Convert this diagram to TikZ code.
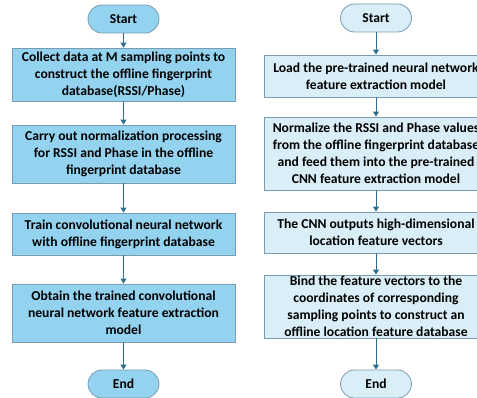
\documentclass[tikz,border=0pt]{standalone}
\usepackage{fontspec}
\setmainfont{Carlito}
\usetikzlibrary{shapes.misc,arrows.meta}
\definecolor{bleu}{HTML}{93D3F0}
\definecolor{bleuclair}{HTML}{DAEEF8}
\definecolor{bord}{HTML}{7A9CB0}
\definecolor{fleche}{HTML}{2F6E8C}

\begin{document}
\begin{tikzpicture}[x=1pt,y=-1pt,
  boite/.style={draw=bord,line width=0.8pt,minimum width=#1,
    align=center,inner sep=0pt,font=\bfseries\fontsize{13.6}{17}\selectfont},
  terminal/.style={rounded rectangle,draw=bord,line width=0.8pt,minimum width=71pt,
    minimum height=28pt,inner sep=0pt,font=\bfseries\fontsize{13.6}{17}\selectfont},
  lien/.style={draw=fleche,line width=0.9pt,-{Triangle[width=6pt,length=5pt]}}]
  \useasboundingbox (0,0) rectangle (477,398);

  % colonne gauche
\node[terminal,fill=bleu] (ls) at (123.5,19) {Start};
\node[boite=223pt,fill=bleu,minimum height=53pt] (l1) at (123.5,74.5)
  {Collect data at M sampling points to\\construct the offline fingerprint\\database(RSSI/Phase)};
\node[boite=223pt,fill=bleu,minimum height=58pt] (l2) at (123.5,154)
  {Carry out normalization processing\\for RSSI and Phase in the offline\\fingerprint database};
\node[boite=223pt,fill=bleu,minimum height=42pt] (l3) at (123.5,234)
  {Train convolutional neural network\\with offline fingerprint database};
\node[boite=223pt,fill=bleu,minimum height=58pt] (l4) at (123.5,313)
  {Obtain the trained convolutional\\neural network feature extraction\\model};
\node[terminal,fill=bleu] (le) at (123.5,384) {End};

  % colonne droite
\node[terminal,fill=bleuclair] (rs) at (376,18) {Start};
\node[boite=224pt,fill=bleuclair,minimum height=42pt] (r1) at (376,76)
  {Load the pre-trained neural network\\feature extraction model};
\node[boite=224pt,fill=bleuclair,minimum height=73pt] (r2) at (376,153.5)
  {Normalize the RSSI and Phase values\\from the offline fingerprint database\\and feed them into the pre-trained\\CNN feature extraction model};
\node[boite=224pt,fill=bleuclair,minimum height=41pt] (r3) at (376,232.5)
  {The CNN outputs high-dimensional\\location feature vectors};
\node[boite=224pt,fill=bleuclair,minimum height=63pt] (r4) at (376,306.5)
  {Bind the feature vectors to the\\coordinates of corresponding\\sampling points to construct an\\offline location feature database};
\node[terminal,fill=bleuclair] (re) at (376,384) {End};

  % fleches
\foreach \a/\b in {ls/l1,l1/l2,l2/l3,l3/l4,l4/le,rs/r1,r1/r2,r2/r3,r3/r4,r4/re}
{
  \draw[lien] (\a.south) -- (\b.north);
}
\end{tikzpicture}
\end{document}
